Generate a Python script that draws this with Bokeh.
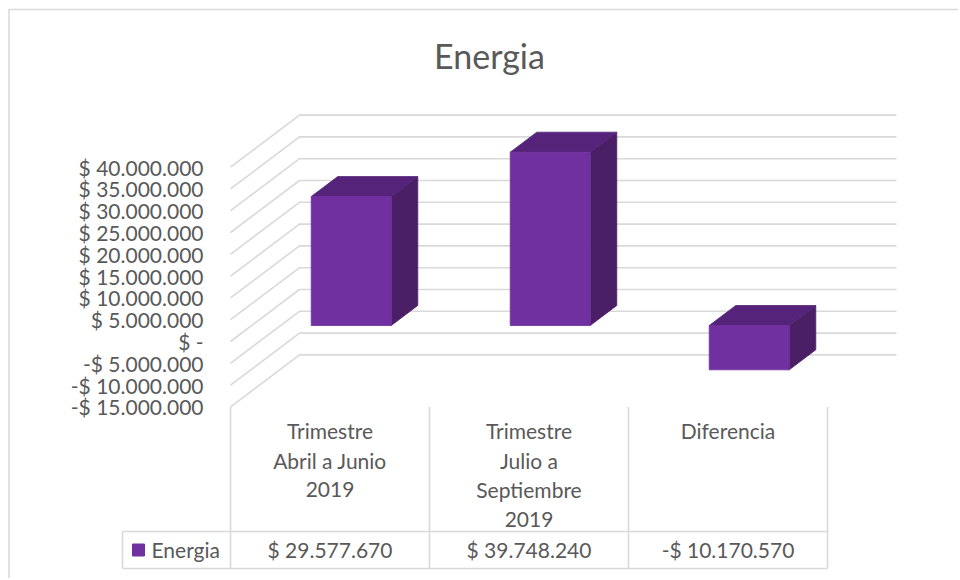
from bokeh.plotting import figure
from bokeh.models import Range1d
from bokeh.core.properties import value
from bokeh.embed import file_html
from bokeh.resources import INLINE

# ---------------- data ----------------
title_text = "Energia"
series_name = "Energia"
categories = ["Trimestre\nAbril a Junio\n2019",
              "Trimestre\nJulio a\nSeptiembre\n2019",
              "Diferencia"]
values = [29577670, 39748240, -10170570]
tick_values = [40e6, 35e6, 30e6, 25e6, 20e6, 15e6, 10e6, 5e6, 0, -5e6, -10e6, -15e6]
tick_labels = ["$ 40.000.000", "$ 35.000.000", "$ 30.000.000", "$ 25.000.000",
               "$ 20.000.000", "$ 15.000.000", "$ 10.000.000", "$ 5.000.000",
               "$ -", "-$ 5.000.000", "-$ 10.000.000", "-$ 15.000.000"]
value_labels = ["$ 29.577.670", "$ 39.748.240", "-$ 10.170.570"]

# ---------------- layout helpers (screen pixels -> data units) ----------------
W, H = 958, 578
X0_PAGE, XSTEP = 329.5, 199.0          # front-plane category centre / spacing
Y0_PAGE, YSCALE = 341.0, 4.36e-6       # front-plane zero / px per peso


def px(xp):
    return (xp - X0_PAGE) / XSTEP


def py(yp):
    return (Y0_PAGE - yp) / YSCALE


DX = 69 / XSTEP      # full depth, x
DV = 52 / YSCALE     # full depth, y
D0, D1 = 16 / 52, 36 / 52   # bar front / back depth
HW = 40 / XSTEP      # bar half width

FONT = value("Lato")
TXT = "#595959"
GRID = "#d9d9d9"

p = figure(width=W, height=H, output_backend="svg", toolbar_location=None,
           x_range=Range1d(px(0), px(W)), y_range=Range1d(py(H), py(0)),
           min_border=0, outline_line_color=None)
p.xaxis.visible = False
p.yaxis.visible = False
p.grid.visible = False
p.background_fill_color = "white"
p.border_fill_color = "white"

# chart border (left and top)
p.multi_line(xs=[[px(8.5), px(8.5)], [px(8), px(W)]],
             ys=[[py(9), py(H)], [py(9), py(9)]],
             line_color=GRID, line_width=1.5)

# title
p.text(x=[px(489)], y=[py(55)], text=[title_text], text_font=FONT,
       text_font_size="34px", text_color=TXT, text_align="center",
       text_baseline="middle")

# back wall gridlines + side wall diagonals
n = len(categories)
xs, ys = [], []
for v in tick_values:
    xs.append([-0.5, -0.5 + DX, n - 0.5 + DX])
    ys.append([v, v + DV, v + DV])
p.multi_line(xs=xs, ys=ys, line_color=GRID, line_width=1.6)

# tick labels
p.text(x=[px(203)] * len(tick_values), y=tick_values, text=tick_labels,
       text_font=FONT, text_font_size="21px", text_color=TXT,
       text_align="right", text_baseline="middle")

# 3D bars
front, top, side = [], [], []
for i, val in enumerate(values):
    b, t = min(0, val), max(0, val)
    l, r = i - HW, i + HW
    front.append(([l + D0 * DX, r + D0 * DX, r + D0 * DX, l + D0 * DX],
                  [b + D0 * DV, b + D0 * DV, t + D0 * DV, t + D0 * DV]))
    top.append(([l + D0 * DX, r + D0 * DX, r + D1 * DX, l + D1 * DX],
                [t + D0 * DV, t + D0 * DV, t + D1 * DV, t + D1 * DV]))
    side.append(([r + D0 * DX, r + D1 * DX, r + D1 * DX, r + D0 * DX],
                 [b + D0 * DV, b + D1 * DV, t + D1 * DV, t + D0 * DV]))

for faces, col in ((side, "#4a1f66"), (top, "#55247a"), (front, "#7030a0")):
    p.patches(xs=[f[0] for f in faces], ys=[f[1] for f in faces],
              fill_color=col, line_color=col, line_width=0.8)

# data table lines
tbl_x = [-0.5 + k for k in range(n + 1)]
txs, tys = [], []
for x in tbl_x:
    txs.append([x, x])
    tys.append([tick_values[-1], py(568)])
txs += [[px(122), tbl_x[-1]], [px(122), tbl_x[-1]], [px(122), px(122)]]
tys += [[py(531), py(531)], [py(568), py(568)], [py(531), py(568)]]
p.multi_line(xs=txs, ys=tys, line_color=GRID, line_width=1.6)

# category header texts
hx, hy, ht = [], [], []
for i, c in enumerate(categories):
    for k, line in enumerate(c.split("\n")):
        hx.append(i)
        hy.append(py(430 + 29.5 * k))
        ht.append(line)
p.text(x=hx, y=hy, text=ht, text_font=FONT, text_font_size="21px",
       text_color=TXT, text_align="center", text_baseline="middle")

# values row
p.text(x=list(range(n)), y=[py(549)] * n, text=value_labels, text_font=FONT,
       text_font_size="21px", text_color=TXT, text_align="center",
       text_baseline="middle")

# legend key
p.scatter(x=[px(138)], y=[py(549.5)], marker="square", size=12,
          fill_color="#7030a0", line_color="#7030a0")
p.text(x=[px(151)], y=[py(549)], text=[series_name], text_font=FONT,
       text_font_size="21px", text_color=TXT, text_align="left",
       text_baseline="middle")

open("out.html", "w").write(file_html(p, INLINE))
